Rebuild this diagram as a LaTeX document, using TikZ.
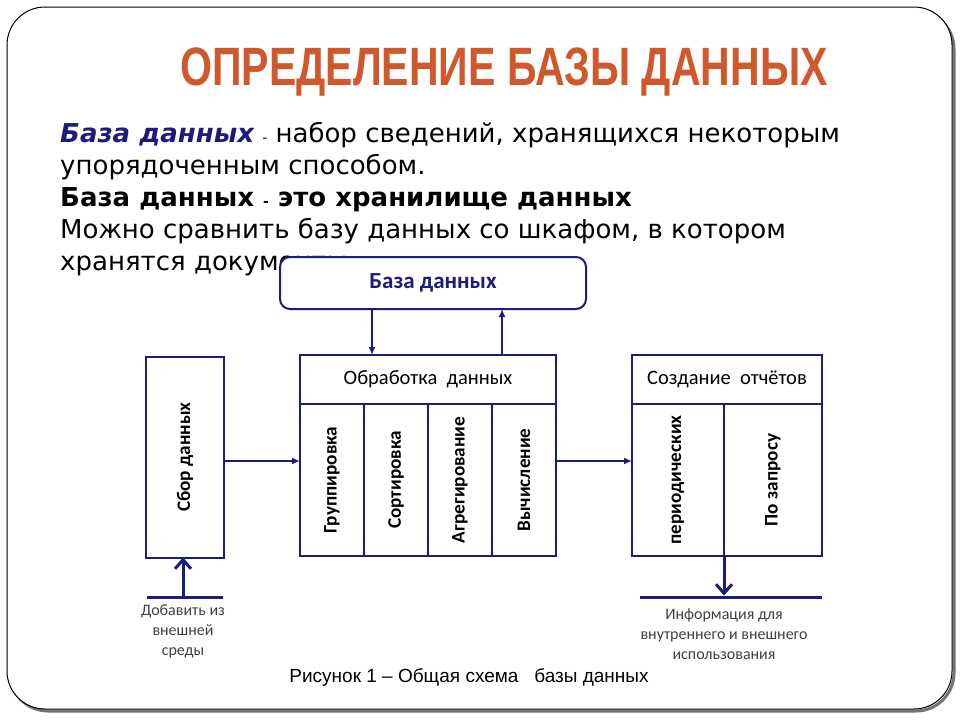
\documentclass[tikz,border=0pt]{standalone}
\usepackage{fontspec}
\setmainfont{DejaVu Sans}
\newfontfamily\diagfont{Carlito}
\newfontfamily\titlefont[FakeStretch=0.76]{Liberation Sans}
\newfontfamily\capfont{Liberation Sans}
\usetikzlibrary{arrows.meta, positioning}
\definecolor{diagblue}{RGB}{28,28,128}
\definecolor{titleorange}{RGB}{208,88,42}

\begin{document}
\begin{tikzpicture}[
        x=1pt, y=-1pt,
        box/.style={draw=diagblue, line width=2pt, fill=white, inner sep=0pt, outer sep=0pt, font=\diagfont\fontsize{20.5}{24}\selectfont},
        col/.style={box, minimum height=152pt, font=\diagfont\bfseries\fontsize{19.2}{22}\selectfont},
        bar/.style={fill=diagblue, draw=none, minimum height=3pt, inner sep=0pt, outer sep=0pt},
        note/.style={align=center, text=black!75, font=\diagfont\fontsize{16}{20}\selectfont},
        line/.style={draw=diagblue, line width=2pt, -{Latex[length=8pt, width=7pt]}},
        fatline/.style={draw=diagblue, line width=3pt, -{Straight Barb[length=9pt, width=16pt]}},
        defline/.style={anchor=base west, inner sep=0pt, font=\fontsize{26}{32}\selectfont}
    ]
        \useasboundingbox (0,0) rectangle (960,720);
        \draw[black!55, line width=3pt, rounded corners=38pt] (10,11) rectangle (954,711);
        \draw[black, line width=1pt, fill=white, rounded corners=38pt] (7,7) rectangle (952,709);

        \node[anchor=base, text=titleorange, font=\titlefont\bfseries\fontsize{54}{60}\selectfont] (title) at (504,85) {ОПРЕДЕЛЕНИЕ БАЗЫ ДАННЫХ};

        \node[defline] (def1) at (60,142) {{\color{diagblue}\bfseries\itshape База данных} {\fontsize{14}{16}\selectfont -} набор сведений, хранящихся некоторым};
        \node[defline] (def2) at (60,174) {упорядоченным способом.};
        \node[defline] (def3) at (60,206) {\bfseries База данных {\fontsize{14}{16}\selectfont -} это хранилище данных};
        \node[defline] (def4) at (60,238) {Можно сравнить базу данных со шкафом, в котором};
        \node[defline] (def5) at (60,270) {хранятся документы.};

        \node[box, rounded corners=10pt, minimum width=306pt, minimum height=52pt, text=diagblue, font=\diagfont\bfseries\fontsize{23}{26}\selectfont] (dbbox) at (433,283) {База данных};

        \node[box, minimum width=78pt, minimum height=201pt, font=\diagfont\bfseries\fontsize{19.2}{22}\selectfont] (collect) at (185,457) {\rotatebox{90}{Сбор данных}};

        \node[box, minimum width=256pt, minimum height=49pt] (prochead) at (428,379.5) {Обработка~ данных};
        \node[col, minimum width=64pt, anchor=north west] (procgroup) at (prochead.south west) {\rotatebox{90}{Группировка}};
        \node[col, minimum width=64pt, right=0pt of procgroup] (procsort) {\rotatebox{90}{Сортировка}};
        \node[col, minimum width=64pt, right=0pt of procsort] (procagg) {\rotatebox{90}{Агрегирование}};
        \node[col, minimum width=64pt, right=0pt of procagg] (proccalc) {\rotatebox{90}{Вычисление}};

        \node[box, minimum width=190pt, minimum height=49pt] (rephead) at (727,379.5) {Создание~ отчётов};
        \node[col, minimum width=92pt, anchor=north west] (repperiod) at (rephead.south west) {\rotatebox{90}{периодических}};
        \node[col, minimum width=98pt, right=0pt of repperiod] (repquery) {\rotatebox{90}{По запросу}};

        \coordinate (dbin) at ([xshift=-56pt]prochead.north);
        \coordinate (dbout) at ([xshift=74pt]prochead.north);
        \draw[line] (dbin |- dbbox.south) -- (dbin);
        \draw[line] (dbout) -- (dbout |- dbbox.south);

        \coordinate (collout) at ([yshift=-4pt]collect.east);
        \coordinate (procout) at ([yshift=19pt]proccalc.east);
        \draw[line] (collout) -- (collout -| procgroup.west);
        \draw[line] (procout) -- (procout -| repperiod.west);

        \node[bar, minimum width=76pt] (srcbar) at (185,597) {};
        \node[bar, minimum width=182pt] (outbar) at (731,597) {};
        \coordinate (srcup) at ([xshift=-2pt]srcbar.north);
        \draw[fatline] (srcup) -- (srcup |- collect.south);
        \draw[fatline] (repperiod.south east) -- (repperiod.south east |- outbar.north);

        \node[note] (srcnote) at (183,631) {Добавить из\\внешней\\среды};
        \node[note] (outnote) at (724,634) {Информация для\\внутреннего и внешнего\\использования};

        \node[anchor=base, font=\capfont\fontsize{19}{22}\selectfont] (caption) at (469,682) {Рисунок 1 – Общая схема~~~базы данных};
    \end{tikzpicture}
\end{document}
